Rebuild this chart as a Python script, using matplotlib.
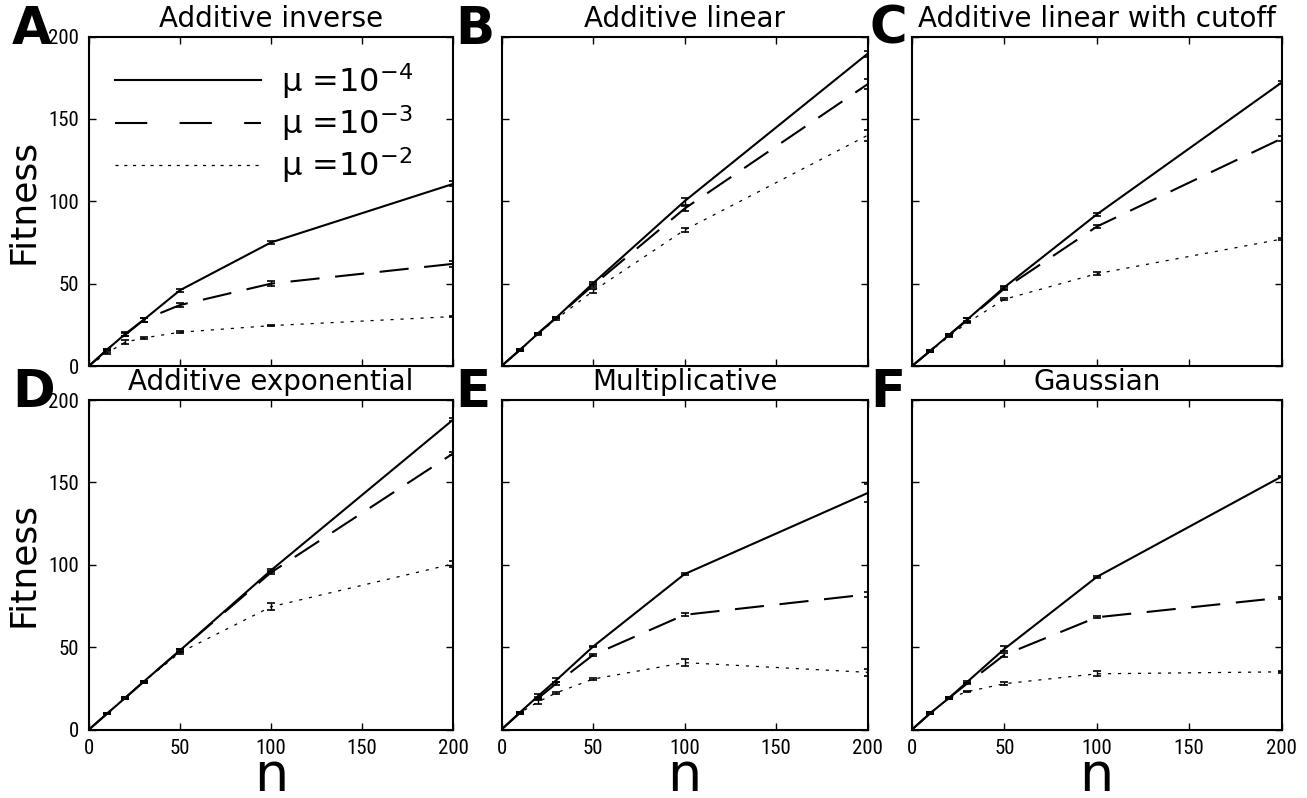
import matplotlib
matplotlib.use("Agg")
import matplotlib.pyplot as plt
from matplotlib import font_manager
from matplotlib.lines import Line2D

# ---------------- data ----------------
n_values = [0, 10, 20, 30, 50, 100, 200]
panel_titles = ["Additive inverse", "Additive linear", "Additive linear with cutoff",
                "Additive exponential", "Multiplicative", "Gaussian"]
panel_letters = ["A", "B", "C", "D", "E", "F"]
series_labels = [r"$\mathregular{\mu}$ =10$^{\mathregular{-4}}$",
                 r"$\mathregular{\mu}$ =10$^{\mathregular{-3}}$",
                 r"$\mathregular{\mu}$ =10$^{\mathregular{-2}}$"]
x_ticks = [0, 50, 100, 150, 200]
y_ticks = [0, 50, 100, 150, 200]

# A: Additive inverse
A_mu4 = [0, 10, 19.5, 28, 46, 75, 110.5]
A_mu3 = [0, 10, 19, 28, 37, 50, 62]
A_mu2 = [0, 8, 14.5, 17, 20.5, 24.5, 30]
A_err4 = [0, 0.5, 1, 1, 1, 1, 1.5]
A_err3 = [0, 0.5, 1, 1, 1, 1.5, 2]
A_err2 = [0, 0.5, 1, 0.5, 0.5, 0.5, 0.5]

# B: Additive linear
B_mu4 = [0, 9.7, 19.8, 29.4, 50.2, 100, 189.5]
B_mu3 = [0, 9.7, 19.8, 29.4, 49, 95.5, 171]
B_mu2 = [0, 9.5, 19.5, 28.5, 45.5, 82.5, 140]
B_err4 = [0, 0.5, 0.5, 0.5, 1, 2, 2]
B_err3 = [0, 0.5, 0.5, 0.5, 1, 1.5, 3]
B_err2 = [0, 0.5, 0.5, 0.5, 1, 1, 3.5]

# C: Additive linear with cutoff
C_mu4 = [0, 9.3, 18.8, 28.3, 47.8, 92, 172]
C_mu3 = [0, 9.3, 18.8, 28, 47, 84.6, 138]
C_mu2 = [0, 9, 18, 26.3, 40.5, 56, 77]
C_err4 = [0, 0.5, 0.5, 1, 1, 1, 1]
C_err3 = [0, 0.5, 0.5, 1, 1, 1, 1.5]
C_err2 = [0, 0.5, 0.5, 0.5, 0.5, 1, 0.5]

# D: Additive exponential
D_mu4 = [0, 9.7, 19.3, 29, 48, 96.6, 188]
D_mu3 = [0, 9.7, 19.3, 29, 48, 95.3, 167.5]
D_mu2 = [0, 9.7, 19.3, 29, 46.7, 74.5, 100.5]
D_err4 = [0, 0.5, 0.5, 0.5, 1, 1, 1]
D_err3 = [0, 0.5, 0.5, 0.5, 1, 1, 1]
D_err2 = [0, 0.5, 0.5, 0.5, 1, 2, 2]

# E: Multiplicative
E_mu4 = [0, 10.3, 20.3, 30, 50.3, 94.3, 143.5]
E_mu3 = [0, 10, 19, 28, 45.2, 69.6, 82]
E_mu2 = [0, 10, 16.8, 22.3, 30.6, 40.6, 34.7]
E_err4 = [0, 0.5, 1, 1, 0.5, 0.5, 5.5]
E_err3 = [0, 0.5, 1, 1, 0.5, 1, 1.5]
E_err2 = [0, 0.5, 1.5, 0.5, 0.5, 2, 2]

# F: Gaussian
F_mu4 = [0, 10, 19.1, 29, 48.9, 92.6, 153.5]
F_mu3 = [0, 10, 19.1, 28, 45.3, 68.1, 80]
F_mu2 = [0, 10, 19, 23, 27.8, 33.8, 35]
F_err4 = [0, 0.5, 0.5, 0.5, 1.5, 0.5, 0.5]
F_err3 = [0, 0.5, 0.5, 0.5, 1, 0.5, 0.5]
F_err2 = [0, 0.5, 0.5, 0.5, 1, 1.5, 0.5]

means = [[A_mu4, A_mu3, A_mu2], [B_mu4, B_mu3, B_mu2], [C_mu4, C_mu3, C_mu2],
         [D_mu4, D_mu3, D_mu2], [E_mu4, E_mu3, E_mu2], [F_mu4, F_mu3, F_mu2]]
errors = [[A_err4, A_err3, A_err2], [B_err4, B_err3, B_err2], [C_err4, C_err3, C_err2],
          [D_err4, D_err3, D_err2], [E_err4, E_err3, E_err2], [F_err4, F_err3, F_err2]]

# ---------------- style ----------------
names = {f.name for f in font_manager.fontManager.ttflist}
tick_font, tick_size = "Liberation Sans", 13.5
for cand in ["Liberation Sans Narrow", "Roboto Condensed", "Open Sans Condensed"]:
    if cand in names:
        tick_font, tick_size = cand, 15
        break
plt.rcParams["font.family"] = ["DejaVu Sans"]
plt.rcParams["mathtext.fontset"] = "dejavusans"

line_styles = [
    dict(linestyle="-", linewidth=1.5),
    dict(linestyle=(0, (14, 7.5)), linewidth=1.5),
    dict(linestyle=(0, (2.5, 5.5)), linewidth=0.9),
]
legend_styles = [
    dict(linestyle="-", linewidth=1.5),
    dict(linestyle=(0, (15.5, 15.5)), linewidth=1.5),
    dict(linestyle=(0, (2.5, 4.5)), linewidth=0.9),
]

fig = plt.figure(figsize=(13.07, 7.98), dpi=100)

lefts = [89 / 1307, 501.5 / 1307, 912 / 1307]
widths = [364 / 1307, 366 / 1307, 369.5 / 1307]
bottoms = [1 - 366 / 798, 1 - 729.5 / 798]
height = 329.5 / 798
letter_x = [-0.212, -0.127, -0.114]

for i in range(6):
    r, c = divmod(i, 3)
    ax = fig.add_axes([lefts[c], bottoms[r], widths[c], height])
    for s in range(3):
        ax.errorbar(n_values, means[i][s], yerr=errors[i][s], color="black",
                    capsize=3, elinewidth=1.0, capthick=1.2,
                    **line_styles[s])
    ax.set_xlim(0, 200)
    ax.set_ylim(0, 200)
    ax.set_xticks(x_ticks)
    ax.set_yticks(y_ticks)
    ax.tick_params(direction="in", length=5, width=1, top=True, right=True,
                   labelsize=tick_size, pad=7)
    for lab in ax.get_xticklabels() + ax.get_yticklabels():
        lab.set_fontfamily(tick_font)
    if c != 0:
        ax.set_yticklabels([])
    else:
        ax.set_ylabel("Fitness", fontsize=26, labelpad=6)
    if r == 0:
        ax.set_xticklabels([])
    else:
        ax.set_xlabel("n", fontsize=39, labelpad=-6)
    for sp in ax.spines.values():
        sp.set_linewidth(1.5)
    ax.set_title(panel_titles[i], fontsize=20, pad=7)
    ax.text(letter_x[c], 1 - 7 / 329.5, panel_letters[i], transform=ax.transAxes,
            fontsize=37, fontweight="bold", ha="left", va="baseline")
    if i == 0:
        handles = [Line2D([], [], color="black", **legend_styles[s]) for s in range(3)]
        ax.legend(handles, series_labels, loc="upper left", bbox_to_anchor=(0.035, 0.965),
                  frameon=False, fontsize=23, handlelength=4.6, handletextpad=0.6,
                  labelspacing=0.08, borderaxespad=0)

fig.savefig("out.png", dpi=100)
